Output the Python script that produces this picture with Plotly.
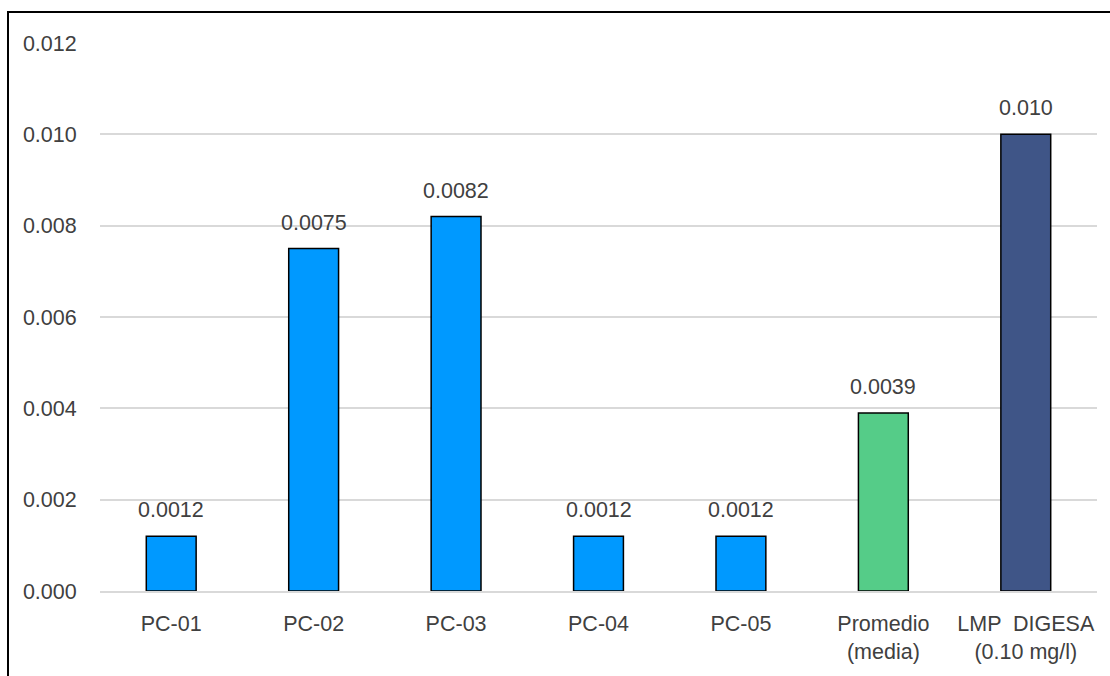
import plotly.graph_objects as go

categories = ["PC-01", "PC-02", "PC-03", "PC-04", "PC-05",
              "Promedio<br>(media)", "LMP  DIGESA<br>(0.10 mg/l)"]
values = [0.0012, 0.0075, 0.0082, 0.0012, 0.0012, 0.0039, 0.010]
value_labels = ["0.0012", "0.0075", "0.0082", "0.0012", "0.0012", "0.0039", "0.010"]
bar_colors = ["#0099FF"] * 5 + ["#55CC88", "#3F5587"]

y_ticks = [0.000, 0.002, 0.004, 0.006, 0.008, 0.010, 0.012]
y_tick_labels = ["0.000", "0.002", "0.004", "0.006", "0.008", "0.010", "0.012"]

font_family = "Liberation Sans, Arial, sans-serif"
text_color = "#404040"
font_size = 21.5

fig = go.Figure(go.Bar(
    x=categories,
    y=values,
    marker=dict(color=bar_colors, line=dict(color="#000000", width=1.5)),
    cliponaxis=False,
))

# Value labels above each bar
for cat, val, lab in zip(categories, values, value_labels):
    fig.add_annotation(
        x=cat, y=val, text=lab, showarrow=False,
        xanchor="center", yanchor="bottom", yshift=12,
        font=dict(family=font_family, size=font_size, color=text_color),
    )

fig.update_layout(
    width=1110, height=676,
    margin=dict(l=100, r=13, t=43, b=83),
    paper_bgcolor="white", plot_bgcolor="white",
    bargap=0.65,
    showlegend=False,
    font=dict(family=font_family, size=font_size, color=text_color),
)

fig.update_yaxes(
    range=[0, 0.012],
    tickvals=y_ticks, ticktext=y_tick_labels,
    showgrid=True, gridcolor="#D9D9D9", gridwidth=1.5,
    zeroline=False, showline=False,
    ticks="outside", ticklen=18, tickcolor="rgba(0,0,0,0)",
    tickfont=dict(size=font_size, color=text_color),
)
fig.update_xaxes(
    showline=True, linecolor="#D9D9D9", linewidth=1.5,
    ticks="outside", ticklen=12, tickcolor="rgba(0,0,0,0)",
    tickfont=dict(size=font_size, color=text_color),
)

# Frame around the chart (top/left edges visible, the rest runs off the page)
fig.add_shape(
    type="rect", xref="paper", yref="paper",
    x0=(8 - 100) / 997, x1=(1125 - 100) / 997,
    y0=-(700 - 593) / 550, y1=1 + (43 - 12) / 550,
    line=dict(color="#000000", width=2), fillcolor="rgba(0,0,0,0)",
    layer="below",
)

fig.write_html("out.html")
